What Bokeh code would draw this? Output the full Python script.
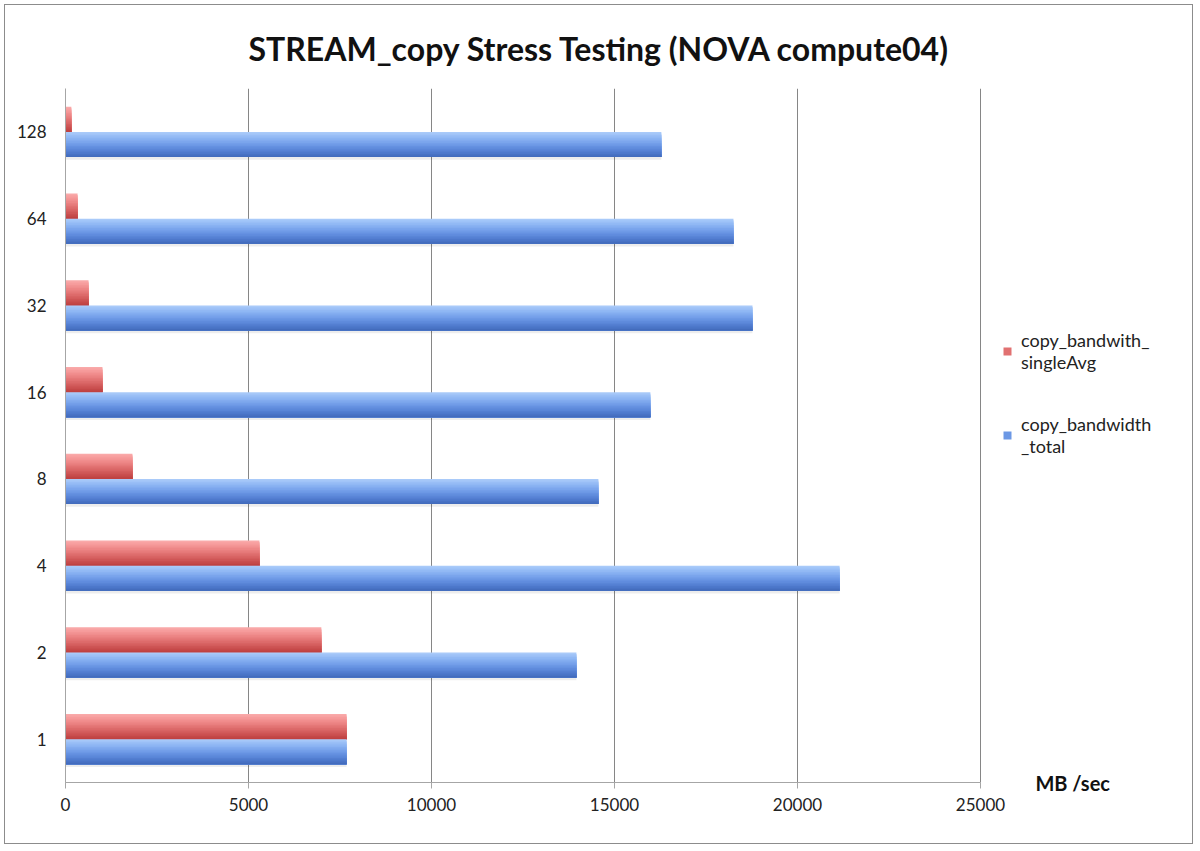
from bokeh.plotting import figure
from bokeh.models import (ColumnDataSource, Range1d, Legend, LegendItem, Label, FixedTicker)
from bokeh.transform import dodge
from bokeh.embed import file_html
from bokeh.resources import INLINE

# ---- data ----
threads = ["1", "2", "4", "8", "16", "32", "64", "128"]
single_avg = [7680, 6990, 5300, 1830, 1010, 630, 330, 160]
total = [7680, 13960, 21150, 14560, 15980, 18770, 18250, 16280]
series_names = ["copy_bandwith_\nsingleAvg", "copy_bandwidth\n_total"]
x_ticks = [0, 5000, 10000, 15000, 20000, 25000]
x_label = "MB /sec"

ypos = list(range(len(threads)))
src = ColumnDataSource(dict(y=ypos, single=single_avg, total=total))

FONT = "Lato"
X_MAX = 25000
PXU = 915 / X_MAX                     # pixels per data unit along x
X_START = -55 / PXU                   # frame extends left so axis labels are not clipped
X_END = X_START + 1180 / PXU          # frame extends right for legend/unit label
Y_BOTTOM = len(threads) - 0.5 - 752 / 86.75

p = figure(width=1189, height=840, y_range=Range1d(Y_BOTTOM, len(threads) - 0.5),
           x_range=Range1d(X_START, X_END), output_backend="svg", toolbar_location=None,
           min_border_left=5, min_border_right=4, min_border_top=83, min_border_bottom=5)
p.outline_line_color = None
p.background_fill_color = "white"
p.border_fill_color = "white"
p.styles = {"border": "1px solid #8c8c8c", "margin": "4px 0 0 4px"}

p.title.text = "STREAM_copy Stress Testing (NOVA compute04)"
p.title.text_font = FONT
p.title.text_font_size = "32px"
p.title.text_font_style = "bold"
p.title.text_color = "#111111"
p.title.align = "left"
p.title.offset = 238
p.title.standoff = 42

# vertical grid lines (limited to the category area)
p.segment(x0=x_ticks, x1=x_ticks, y0=-0.5, y1=len(threads) - 0.5,
          line_color="#868686", line_width=1)

bar_h = 0.29
red_cols = ["#f9a9a9", "#f8a2a2", "#f69b9b", "#f39494", "#f08d8d", "#ed8686", "#e97f7f", "#e57878",
            "#e17171", "#dc6a6a", "#d86363", "#d35c5c", "#ce5555", "#c94e4e", "#c44848", "#bf4242"]
blue_cols = ["#a9caf9", "#a1c4f8", "#99bef6", "#91b8f4", "#89b2f2", "#82abef", "#7aa5ec", "#739ee9",
             "#6c98e5", "#6591e1", "#5f8bdc", "#5985d7", "#537ed1", "#4d78cb", "#4872c4", "#436cbd"]
N = len(red_cols)

renderers = {}
for key, center, cols in [("single", bar_h / 2, red_cols), ("total", -bar_h / 2, blue_cols)]:
    bottom = center - bar_h / 2
    top = center + bar_h / 2
    # soft shadow
    p.hbar(y=dodge("y", center - 0.03), right=key, left=0, height=bar_h, source=src,
           fill_color="#000000", fill_alpha=0.07, line_color=None)
    for k in range(N):
        t = top - k * bar_h / N
        hk = t - bottom
        r = p.hbar(y=dodge("y", bottom + hk / 2), right=key, left=0, height=hk,
                   source=src, fill_color=cols[k], line_color=None)
        if k == N // 2:
            renderers[key] = r

# axes
p.xaxis.fixed_location = -0.5
p.xaxis.bounds = (0, X_MAX)
p.xaxis.ticker = FixedTicker(ticks=x_ticks)
p.xaxis.axis_line_color = "#a6a6a6"
p.xaxis.major_tick_line_color = "#a6a6a6"
p.xaxis.major_tick_out = 6
p.xaxis.major_tick_in = 0
p.xaxis.minor_tick_line_color = None
p.xaxis.major_label_text_font = FONT
p.xaxis.major_label_text_font_size = "17px"
p.xaxis.major_label_text_color = "#222222"
p.xaxis.major_label_standoff = 9

p.yaxis.fixed_location = 0
p.yaxis.bounds = (-0.5, len(threads) - 0.5)
p.yaxis.ticker = FixedTicker(ticks=ypos)
p.yaxis.major_label_overrides = {i: t for i, t in zip(ypos, threads)}
p.yaxis.axis_line_color = "#a6a6a6"
p.yaxis.major_tick_line_color = None
p.yaxis.major_tick_out = 0
p.yaxis.minor_tick_line_color = None
p.yaxis.major_label_text_font = FONT
p.yaxis.major_label_text_font_size = "17px"
p.yaxis.major_label_text_color = "#222222"
p.yaxis.major_label_standoff = 19

p.xgrid.grid_line_color = None
p.ygrid.grid_line_color = None

# axis unit label
p.add_layout(Label(x=26500, y=-0.5, text=x_label, text_font=FONT, text_font_size="20px",
                   text_font_style="bold", text_color="#111111", text_baseline="middle",
                   text_align="left"))

legend = Legend(items=[LegendItem(label=series_names[0], renderers=[renderers["single"]]),
                       LegendItem(label=series_names[1], renderers=[renderers["total"]])],
                location=(937 + 55, 383), border_line_color=None, background_fill_alpha=0,
                label_text_font=FONT, label_text_font_size="18px", label_text_color="#222222",
                glyph_width=10, glyph_height=10, spacing=40, label_text_line_height=1.3,
                label_standoff=9, padding=10, margin=0)
p.add_layout(legend, "center")

open("out.html", "w").write(file_html(p, INLINE))
